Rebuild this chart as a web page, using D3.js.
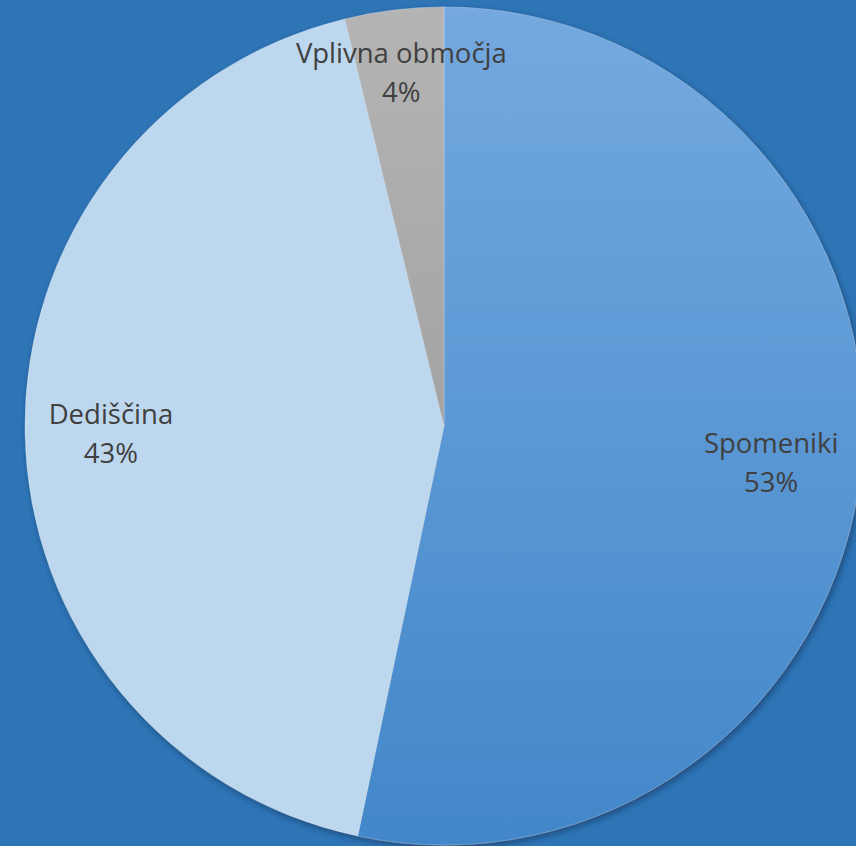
<!DOCTYPE html>
<html>
<head>
<meta charset="utf-8">
<script src="https://cdn.jsdelivr.net/npm/d3@7"></script>
<style>
  html, body { margin: 0; padding: 0; background: #2E75B6; overflow: hidden; }
  svg { display: block; }
</style>
</head>
<body>
<script>
// Size of the picture
const w = 856;
const h = 846;

// Chart data: categories and their shares
const categories = ["Spomeniki", "Dediščina", "Vplivna območja"];
const values = [53.3, 42.9, 3.8];

// Colours for each slice (top and bottom of the gradient)
const topColors = ["#74A9DF", "#BDD7EE", "#B4B4B4"];
const bottomColors = ["#4287C9", "#BDD7EE", "#939393"];

// Label distance from the centre, as part of the radius
const labelDist = [0.785, 0.795, 0.855];

const cx = 444;
const cy = 426;
const r = 419;

const svg = d3.select("body")
  .append("svg")
  .attr("width", w)
  .attr("height", h);

const defs = svg.append("defs");

// one vertical gradient per slice, spanning the whole pie
categories.forEach((c, i) => {
  const g = defs.append("linearGradient")
    .attr("id", "grad" + i)
    .attr("gradientUnits", "userSpaceOnUse")
    .attr("x1", 0).attr("y1", -r)
    .attr("x2", 0).attr("y2", r);
  g.append("stop").attr("offset", "0%").attr("stop-color", topColors[i]);
  g.append("stop").attr("offset", "100%").attr("stop-color", bottomColors[i]);
});

// soft shadow under the pie
const shadow = defs.append("filter")
  .attr("id", "shadow")
  .attr("x", "-10%").attr("y", "-10%")
  .attr("width", "120%").attr("height", "120%");
shadow.append("feDropShadow")
  .attr("dx", 2).attr("dy", 3)
  .attr("stdDeviation", 3)
  .attr("flood-color", "#0B2C4E")
  .attr("flood-opacity", 0.55);

const total = d3.sum(values);
const data = categories.map((c, i) => ({ name: c, value: values[i], idx: i }));

// pie starts at the top and runs clockwise, keeping the given order
const pie = d3.pie()
  .sort(null)
  .value(d => d.value);

const arc = d3.arc()
  .innerRadius(0)
  .outerRadius(r);

const g = svg.append("g")
  .attr("transform", `translate(${cx}, ${cy})`);

g.append("g")
  .attr("filter", "url(#shadow)")
  .selectAll("path")
  .data(pie(data))
  .enter()
  .append("path")
  .attr("d", arc)
  .attr("fill", d => `url(#grad${d.data.idx})`)
  .attr("stroke", "rgba(255,255,255,0.3)")
  .attr("stroke-width", 0.8);

// labels: name and rounded percentage
const labels = g.selectAll("g.label")
  .data(pie(data))
  .enter()
  .append("g")
  .attr("class", "label")
  .attr("transform", d => {
    const a = (d.startAngle + d.endAngle) / 2;
    const rr = r * labelDist[d.data.idx];
    return `translate(${Math.sin(a) * rr}, ${-Math.cos(a) * rr})`;
  });

labels.append("text")
  .attr("text-anchor", "middle")
  .attr("y", -7)
  .style("font-family", "'Open Sans', sans-serif")
  .style("font-size", "27.5px")
  .style("fill", "#404040")
  .text(d => d.data.name);

labels.append("text")
  .attr("text-anchor", "middle")
  .attr("y", 32)
  .style("font-family", "'Open Sans', sans-serif")
  .style("font-size", "27.5px")
  .style("fill", "#404040")
  .text(d => Math.round(d.data.value / total * 100) + "%");
</script>
</body>
</html>
